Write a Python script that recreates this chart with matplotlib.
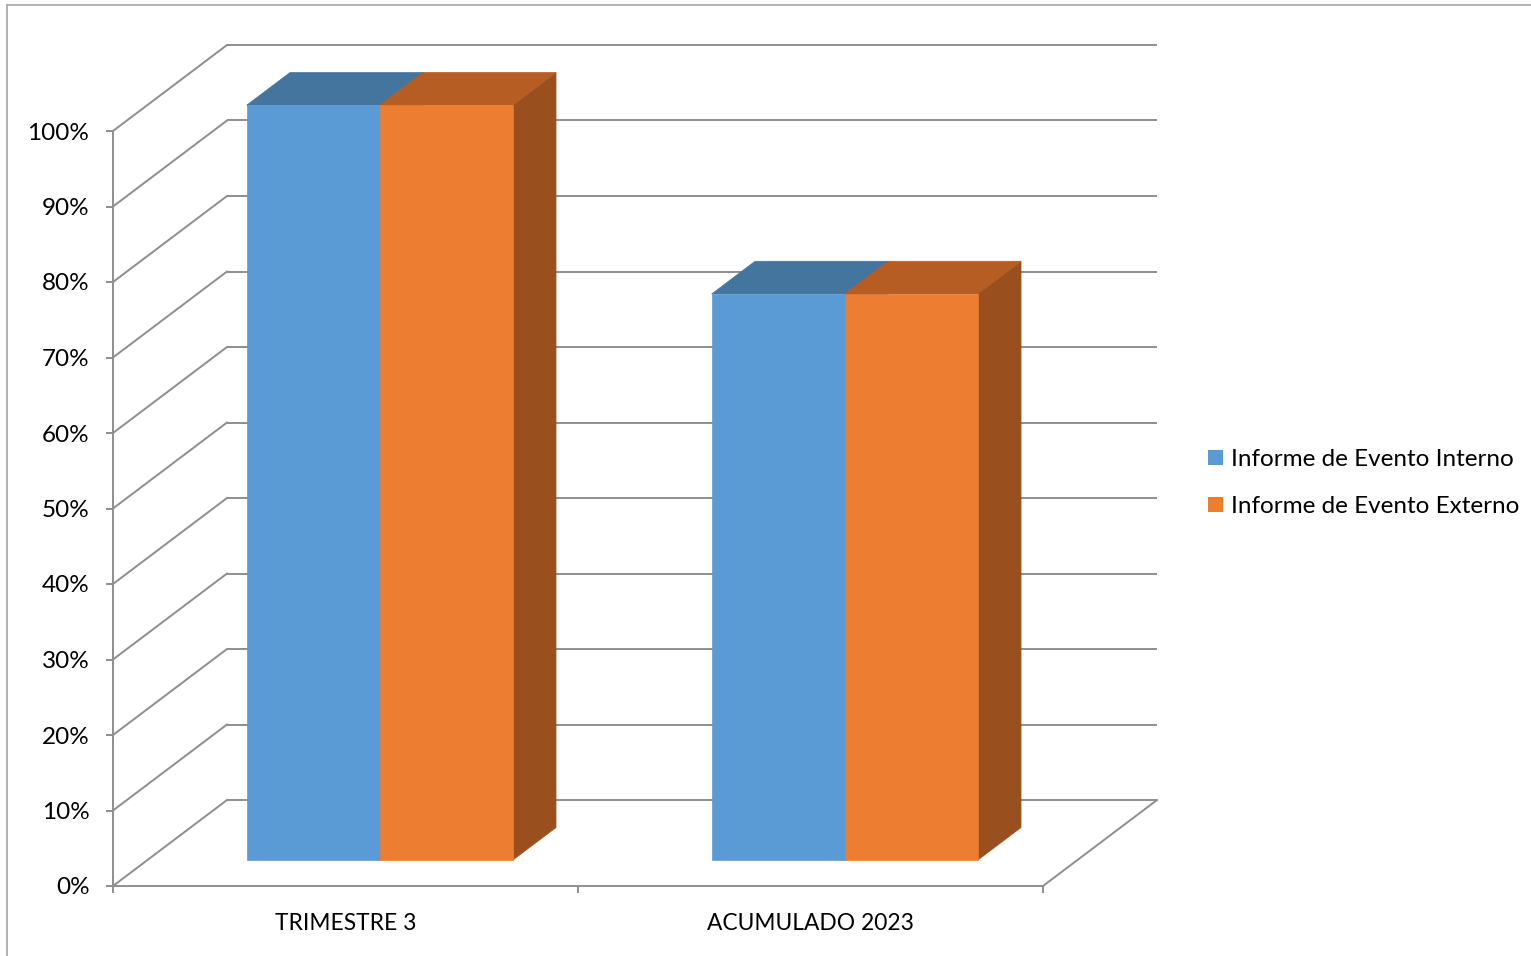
import numpy as np
import matplotlib
matplotlib.use("Agg")
import matplotlib.pyplot as plt
from matplotlib.patches import Polygon, Patch
from matplotlib.lines import Line2D

plt.rcParams['font.family'] = ['Lato', 'DejaVu Sans']

# ---- data ----
categories = ['TRIMESTRE 3', 'ACUMULADO 2023']
series_names = ['Informe de Evento Interno', 'Informe de Evento Externo']
interno = [1.00, 0.75]
externo = [1.00, 0.75]
y_ticks = [0.0, 0.1, 0.2, 0.3, 0.4, 0.5, 0.6, 0.7, 0.8, 0.9, 1.0]
y_tick_labels = ['0%', '10%', '20%', '30%', '40%', '50%', '60%', '70%', '80%', '90%', '100%']

# ---- styling ----
W, H = 1531, 956
DPI = 100
front_cols = ['#5B9BD5', '#ED7D31']
top_cols = ['#44759F', '#B55D23']
side_cols = ['#44759F', '#9A4F1E']
grid_col = '#8E8E8E'
grid_lw = 1.4

# oblique projection: depth fraction z in [0,1] -> offset in data units
DX = 114 / 465.0      # category units
DY = 86 / 755.0       # value units
Z0 = 0.30             # bar front plane depth
ZD = 0.38             # bar depth
BAR_W = 0.286         # width of each bar in category units


def P(x, y, z):
    return (x + z * DX, y + z * DY)


fig = plt.figure(figsize=(W / DPI, H / DPI), dpi=DPI)
ax = fig.add_axes([113 / W, 1 - 886 / H, 930 / W, 755 / H])
ax.set_xlim(0, len(categories))
ax.set_ylim(0, 1)
ax.patch.set_alpha(0)

for s in ['top', 'right']:
    ax.spines[s].set_visible(False)
for s in ['left', 'bottom']:
    ax.spines[s].set_color(grid_col)
    ax.spines[s].set_linewidth(grid_lw)
    ax.spines[s].set_zorder(5)

# y ticks
ax.set_yticks(y_ticks)
ax.set_yticklabels(y_tick_labels)
ax.tick_params(axis='y', length=5, width=grid_lw, color=grid_col, pad=12,
               labelsize=17.5, labelcolor='#000000')
# x ticks: major boundaries, minor for labels
ax.set_xticks(np.arange(0, len(categories) + 1))
ax.set_xticklabels([''] * (len(categories) + 1))
ax.tick_params(axis='x', which='major', length=5, width=grid_lw, color=grid_col)
ax.set_xticks(np.arange(len(categories)) + 0.5, minor=True)
ax.set_xticklabels(categories, minor=True)
ax.tick_params(axis='x', which='minor', length=0, pad=19.5, labelsize=16.4,
               labelcolor='#000000')

xmax = len(categories)
# back wall gridlines and left wall diagonals
for v in y_ticks:
    x0, y0 = P(0, v, 1)
    x1, y1 = P(xmax, v, 1)
    ax.plot([x0, x1], [y0, y1], color=grid_col, lw=grid_lw, clip_on=False, zorder=1,
            solid_capstyle='butt')
    fx, fy = P(0, v, 0)
    ax.plot([fx, x0], [fy, y0], color=grid_col, lw=grid_lw, clip_on=False, zorder=1)
# floor right edge
a = P(xmax, 0, 0)
b = P(xmax, 0, 1)
ax.plot([a[0], b[0]], [a[1], b[1]], color=grid_col, lw=grid_lw, clip_on=False, zorder=1)

# bars
series = [interno, externo]
for ci in range(len(categories)):
    left = ci + 0.5 - BAR_W
    for si, vals in enumerate(series):
        v = vals[ci]
        xl = left + si * BAR_W
        xr = xl + BAR_W
        front = [P(xl, 0, Z0), P(xr, 0, Z0), P(xr, v, Z0), P(xl, v, Z0)]
        top = [P(xl, v, Z0), P(xr, v, Z0), P(xr, v, Z0 + ZD), P(xl, v, Z0 + ZD)]
        side = [P(xr, 0, Z0), P(xr, 0, Z0 + ZD), P(xr, v, Z0 + ZD), P(xr, v, Z0)]
        zb = 3 + si
        ax.add_patch(Polygon(side, closed=True, fc=side_cols[si], ec=side_cols[si],
                             lw=0.5, clip_on=False, zorder=zb))
        ax.add_patch(Polygon(top, closed=True, fc=top_cols[si], ec=top_cols[si],
                             lw=0.5, clip_on=False, zorder=zb))
        ax.add_patch(Polygon(front, closed=True, fc=front_cols[si], ec=front_cols[si],
                             lw=0.5, clip_on=False, zorder=zb + 0.5))

# legend
handles = [Patch(fc=front_cols[i], ec='none') for i in range(2)]
fig.legend(handles, series_names, loc='center left',
           bbox_to_anchor=(1208 / W, 1 - 483 / H), frameon=False, fontsize=17.5,
           handlelength=0.6, handleheight=0.6, handletextpad=0.35, labelspacing=1.08,
           borderpad=0, borderaxespad=0)

# chart area border (top and left)
fig.add_artist(Line2D([7 / W, 1.0], [1 - 5 / H, 1 - 5 / H], transform=fig.transFigure,
                      color='#A6A6A6', lw=1.2))
fig.add_artist(Line2D([7 / W, 7 / W], [1 - 5 / H, 0.0], transform=fig.transFigure,
                      color='#A6A6A6', lw=1.2))

fig.savefig('out.png', dpi=DPI, facecolor='white')
